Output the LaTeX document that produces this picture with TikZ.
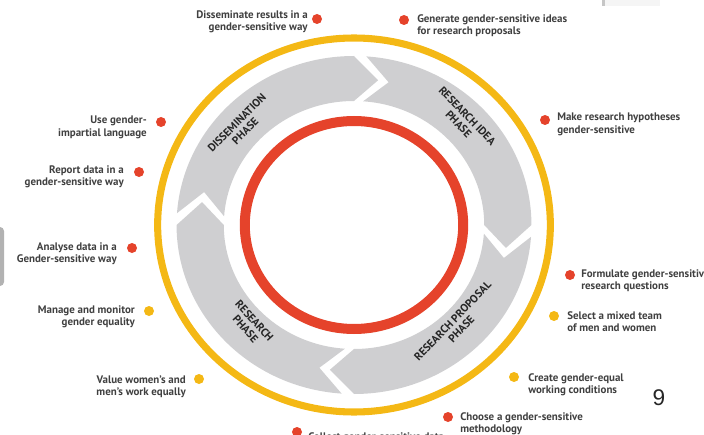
\documentclass[tikz,border=0pt]{standalone}
\usepackage{fontspec}
\setmainfont{PT Sans}
\newfontfamily\numfont{Liberation Sans}
\definecolor{ringyellow}{HTML}{F4B815}
\definecolor{ringred}{HTML}{E5432B}
\definecolor{phasegray}{HTML}{CFCFD1}
\definecolor{lbltext}{HTML}{404040}
\begin{document}
\begin{tikzpicture}[x=0.75pt,y=-0.75pt,
  dotr/.style={circle,fill=ringred,inner sep=0pt,minimum size=7.5pt},
  doty/.style={circle,fill=ringyellow,inner sep=0pt,minimum size=7.5pt},
  lblR/.style={anchor=north east,align=right,inner sep=0pt,text=lbltext,font=\fontsize{8.2}{9.2}\selectfont\bfseries},
  lblL/.style={anchor=north west,align=left,inner sep=0pt,text=lbltext,font=\fontsize{8.2}{9.2}\selectfont\bfseries},
  phaselbl/.style={align=center,inner sep=0pt,text=black!85,font=\fontsize{8.3}{9}\selectfont\bfseries},
  phasearrow/.style={fill=phasegray}]
\useasboundingbox (0,0) rectangle (704,435);
\clip (0,0) rectangle (704,435);
% edge artifacts
\fill[gray!60, rounded corners=3] (-6,227) rectangle (4,286);
\fill[gray!8] (603,0) rectangle (660,6);
\fill[gray!45] (602,0) rectangle (604.5,6);
% rings and phase arrows
\begin{scope}[shift={(354,225)}, yscale=-1, xscale=1.05]
  \draw[ringyellow, line width=5.3pt] (0,0) circle[radius=187];
  \draw[ringred, line width=7.5pt] (0,0) circle[radius=104];
  \foreach \b in {178,88,-2,-92}{
    \fill[phasearrow] ({\b-2}:169) arc[start angle={\b-2}, end angle={\b-88}, radius=169]
      -- ({\b-97}:146.5) -- ({\b-88}:124)
      arc[start angle={\b-88}, end angle={\b-2}, radius=124]
      -- ({\b-11}:146.5) -- cycle;
  }
\end{scope}
% phase labels
\node[phaselbl, rotate=45] (pdis) at (241,127) {DISSEMINATION\\PHASE};
\node[phaselbl, rotate=-46] (pidea) at (463,120) {RESEARCH IDEA\\PHASE};
\node[phaselbl, rotate=46] (pprop) at (457,325) {RESEARCH PROPOSAL\\PHASE};
\node[phaselbl, rotate=-48] (pres) at (250,325) {RESEARCH\\PHASE};
% items
\node[dotr] (d1) at (317,19) {};
\node[lblR] (t1) at (308,10) {Disseminate results in a\\gender-sensitive way};
\node[dotr] (d2) at (404,20) {};
\node[lblL] (t2) at (417,14) {Generate gender-sensitive ideas\\for research proposals};
\node[dotr] (d3) at (545,120) {};
\node[lblL] (t3) at (557,113) {Make research hypotheses\\gender-sensitive};
\node[dotr] (d4) at (161,122) {};
\node[lblR] (t4) at (147,116) {Use gender-\\impartial language};
\node[dotr] (d5) at (139,172) {};
\node[lblR] (t5) at (124,165) {Report data in a\\gender-sensitive way};
\node[dotr] (d6) at (132,248) {};
\node[lblR] (t6) at (117,242) {Analyse data in a\\Gender-sensitive way};
\node[doty] (d7) at (149,311) {};
\node[lblR] (t7) at (135,305) {Manage and monitor\\gender equality};
\node[doty] (d8) at (199,379) {};
\node[lblR] (t8) at (186,375) {Value women’s and\\men’s work equally};
\node[dotr] (d9) at (297,432) {};
\node[lblL] (t9) at (308,432) {Collect gender-sensitive data};
\node[dotr] (d10) at (448,417) {};
\node[lblL] (t10) at (460,412) {Choose a gender-sensitive\\methodology};
\node[doty] (d11) at (514,377) {};
\node[lblL] (t11) at (528,373) {Create gender-equal\\working conditions};
\node[doty] (d12) at (554,316) {};
\node[lblL] (t12) at (567,311) {Select a mixed team\\of men and women};
\node[dotr] (d13) at (570,275) {};
\node[lblL] (t13) at (581,269) {Formulate gender-sensitive\\research questions};
% page number
\node[inner sep=0pt, text=black!85, font=\numfont\fontsize{17}{20}\selectfont] (pg) at (659,398) {9};
\end{tikzpicture}
\end{document}
